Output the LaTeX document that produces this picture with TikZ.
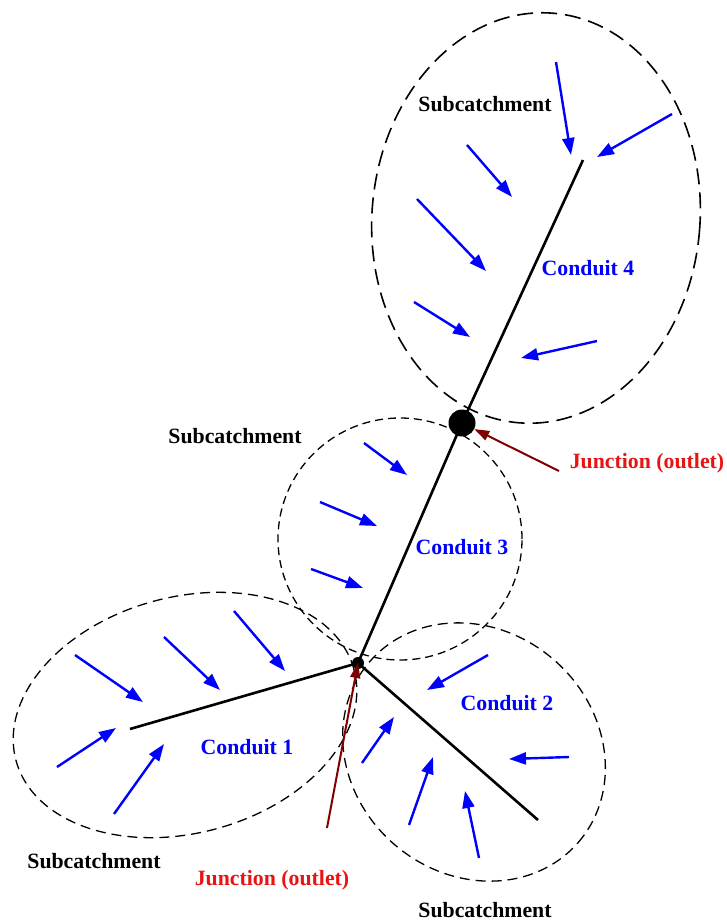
\documentclass[tikz,border=0pt]{standalone}
\usepackage{fontspec}
\setmainfont{Liberation Serif}
\usetikzlibrary{arrows.meta,shapes.geometric}

\definecolor{outletarrowred}{RGB}{128,0,0}
\definecolor{outletred}{RGB}{232,20,20}

\begin{document}
\begin{tikzpicture}[x=1pt, y=-1pt,
  conduit/.style={line width=2.6pt},
  runoff/.style={blue, line width=2.4pt, -{Triangle[length=17pt,width=12pt]}},
  outletarrow/.style={outletarrowred, line width=2pt, -{Triangle[length=15pt,width=10pt]}},
  area/.style={draw, ellipse, inner sep=0pt, line width=1.3pt},
  junction/.style={circle, fill=black, inner sep=0pt},
  lbl/.style={font=\bfseries\fontsize{21.8}{26}\selectfont, inner sep=0pt}]

\useasboundingbox (0,0) rectangle (727,923); %% spacing

%% subcatchments
\node[area, line width=1.6pt, dash pattern=on 16pt off 8pt, minimum width=328pt, minimum height=411pt, rotate=-5] (sub4) at (536,218) {};
\node[area, dash pattern=on 8pt off 5pt, minimum width=244pt, minimum height=242pt] (sub3) at (400,539) {};
\node[area, dash pattern=on 10pt off 6pt, minimum width=350pt, minimum height=236pt, rotate=15] (sub1) at (185,715) {};
\node[area, dash pattern=on 10pt off 6pt, minimum width=276pt, minimum height=244pt, rotate=-41] (sub2) at (474,752) {};

%% junctions
\node[junction, minimum size=27pt] (jtop) at (462,423) {};
\node[junction, minimum size=12pt] (jbot) at (358,663) {};

%% conduits
\coordinate (c4up) at (583,160);
\coordinate (c1up) at (130,729);
\coordinate (c2up) at (538,820);

\draw[conduit] (c4up) -- (jtop.center) -- (jbot.center);
\draw[conduit] (c1up) -- (jbot.center) -- (c2up);

%% runoff, subcatchment 4
\coordinate (r4a) at (556,62);  \coordinate (r4a tip) at (571,155);
\coordinate (r4b) at (672,114); \coordinate (r4b tip) at (597,157);
\coordinate (r4c) at (467,145); \coordinate (r4c tip) at (512,197);
\coordinate (r4d) at (417,199); \coordinate (r4d tip) at (486,271);
\coordinate (r4e) at (414,302); \coordinate (r4e tip) at (470,337);
\coordinate (r4f) at (597,341); \coordinate (r4f tip) at (521,358);

\draw[runoff] (r4a) -- (r4a tip);
\draw[runoff] (r4b) -- (r4b tip);
\draw[runoff] (r4c) -- (r4c tip);
\draw[runoff] (r4d) -- (r4d tip);
\draw[runoff] (r4e) -- (r4e tip);
\draw[runoff] (r4f) -- (r4f tip);

%% runoff, subcatchment 3
\coordinate (r3a) at (364,443); \coordinate (r3a tip) at (407,475);
\coordinate (r3b) at (320,502); \coordinate (r3b tip) at (377,526);
\coordinate (r3c) at (311,569); \coordinate (r3c tip) at (363,588);

\draw[runoff] (r3a) -- (r3a tip);
\draw[runoff] (r3b) -- (r3b tip);
\draw[runoff] (r3c) -- (r3c tip);

%% runoff, subcatchment 1
\coordinate (r1a) at (75,655);  \coordinate (r1a tip) at (143,702);
\coordinate (r1b) at (164,637); \coordinate (r1b tip) at (220,690);
\coordinate (r1c) at (234,611); \coordinate (r1c tip) at (285,671);
\coordinate (r1d) at (57,767);  \coordinate (r1d tip) at (116,728);
\coordinate (r1e) at (114,814); \coordinate (r1e tip) at (164,744);

\draw[runoff] (r1a) -- (r1a tip);
\draw[runoff] (r1b) -- (r1b tip);
\draw[runoff] (r1c) -- (r1c tip);
\draw[runoff] (r1d) -- (r1d tip);
\draw[runoff] (r1e) -- (r1e tip);

%% runoff, subcatchment 2
\coordinate (r2a) at (488,655); \coordinate (r2a tip) at (427,690);
\coordinate (r2b) at (362,763); \coordinate (r2b tip) at (394,717);
\coordinate (r2c) at (409,825); \coordinate (r2c tip) at (433,757);
\coordinate (r2d) at (479,858); \coordinate (r2d tip) at (465,791);
\coordinate (r2e) at (569,757); \coordinate (r2e tip) at (509,759);

\draw[runoff] (r2a) -- (r2a tip);
\draw[runoff] (r2b) -- (r2b tip);
\draw[runoff] (r2c) -- (r2c tip);
\draw[runoff] (r2d) -- (r2d tip);
\draw[runoff] (r2e) -- (r2e tip);

%% outlets
\coordinate (ptop) at (559,471);
\coordinate (pbot) at (327,828);

\draw[outletarrow] (ptop) -- (jtop);
\draw[outletarrow] (pbot) -- (jbot.center);

%% labels
\node[lbl] (lsub4) at (485,104) {Subcatchment};
\node[lbl] (lsub3) at (235,436) {Subcatchment};
\node[lbl] (lsub1) at (94,861) {Subcatchment};
\node[lbl] (lsub2) at (485,910) {Subcatchment};

\node[lbl, text=blue] (lc4) at (588,268) {Conduit 4};
\node[lbl, text=blue] (lc3) at (462,547) {Conduit 3};
\node[lbl, text=blue] (lc1) at (247,747) {Conduit 1};
\node[lbl, text=blue] (lc2) at (507,703) {Conduit 2};

\node[lbl, text=outletred] (ljtop) at (647,463) {Junction (outlet)};
\node[lbl, text=outletred] (ljbot) at (272,880) {Junction (outlet)};

\end{tikzpicture}
\end{document}
